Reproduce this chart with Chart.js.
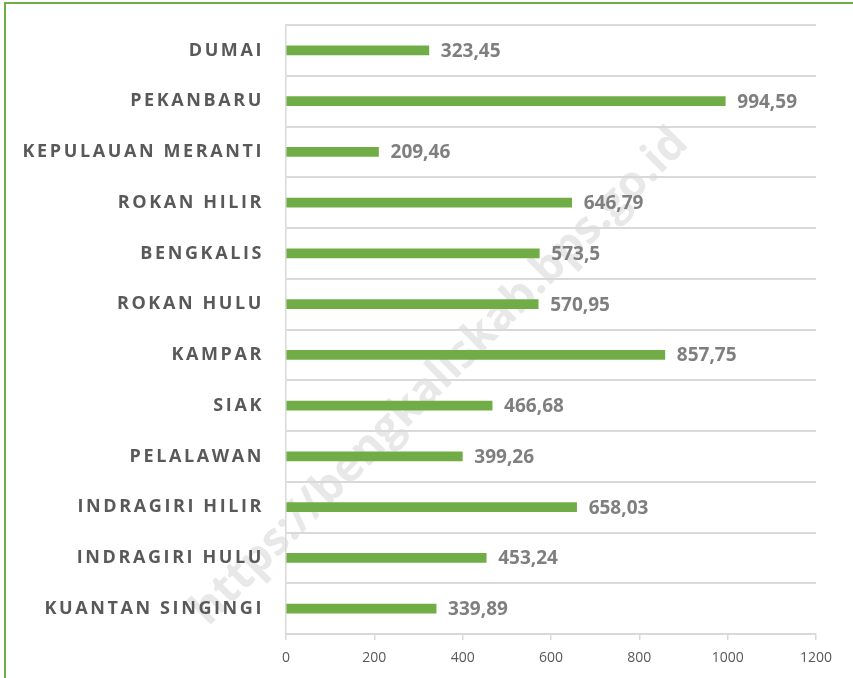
<!DOCTYPE html>
<html>
<head>
<meta charset="utf-8">
<script src="https://cdn.jsdelivr.net/npm/chart.js@4"></script>
<style>
  html, body { margin: 0; padding: 0; background: #fff; }
  #wrap { position: relative; width: 853px; height: 678px; overflow: hidden; }
  #frame { position: absolute; left: 4px; top: 2px; width: 1000px; height: 1000px;
           border-left: 2px solid #70ad47; border-top: 2px solid #70ad47; box-sizing: border-box; }
  canvas { position: absolute; left: 0; top: 0; }
</style>
</head>
<body>
<div id="wrap">
  <div id="frame"></div>
  <canvas id="barChart" width="853" height="678"></canvas>
</div>
<script>
// kabupaten / kota, urut dari atas
const regions = [
  "DUMAI", "PEKANBARU", "KEPULAUAN MERANTI", "ROKAN HILIR", "BENGKALIS", "ROKAN HULU",
  "KAMPAR", "SIAK", "PELALAWAN", "INDRAGIRI HILIR", "INDRAGIRI HULU", "KUANTAN SINGINGI"
];
const values = [
  323.45, 994.59, 209.46, 646.79, 573.5, 570.95,
  857.75, 466.68, 399.26, 658.03, 453.24, 339.89
];
const xTicks = [0, 200, 400, 600, 800, 1000, 1200];
const watermark = "https://bengkaliskab.bps.go.id";

const labelFont = "'Open Sans', 'DejaVu Sans', sans-serif";

// label kategori pakai letter spacing
class SpacedCategoryScale extends Chart.CategoryScale {
  _calculatePadding(...args) {
    super._calculatePadding(...args);
    this.paddingTop = 0;
    this.paddingBottom = 0;
  }
  drawLabels(area) {
    const ctx = this.ctx;
    ctx.save();
    ctx.letterSpacing = "2.6px";
    super.drawLabels(area);
    ctx.restore();
  }
}
SpacedCategoryScale.id = "spacedCategory";
SpacedCategoryScale.defaults = Chart.CategoryScale.defaults;
Chart.register(SpacedCategoryScale);

// watermark di belakang
const watermarkPlugin = {
  id: "watermark",
  beforeDraw(chart) {
    const ctx = chart.ctx;
    ctx.save();
    ctx.translate(440, 377);
    ctx.rotate(-Math.PI / 4);
    ctx.font = "bold 45px " + labelFont;
    ctx.fillStyle = "#e8e8e8";
    ctx.textAlign = "center";
    ctx.textBaseline = "middle";
    ctx.fillText(watermark, 0, 0);
    ctx.restore();
  }
};

// nilai di ujung batang
const valueLabels = {
  id: "valueLabels",
  afterDatasetsDraw(chart) {
    const ctx = chart.ctx;
    const meta = chart.getDatasetMeta(0);
    ctx.save();
    ctx.font = "bold 19px " + labelFont;
    ctx.fillStyle = "#7f7f7f";
    ctx.textAlign = "left";
    ctx.textBaseline = "middle";
    meta.data.forEach((bar, i) => {
      const txt = String(values[i]).replace(".", ",");
      ctx.fillText(txt, bar.x + 12, bar.y + 1);
    });
    ctx.restore();
  }
};

const ctx = document.getElementById("barChart").getContext("2d");

new Chart(ctx, {
  type: "bar",
  data: {
    labels: regions,
    datasets: [{
      data: values,
      backgroundColor: "#70ad47",
      borderWidth: 0,
      barThickness: 9
    }]
  },
  options: {
    indexAxis: "y",
    responsive: false,
    animation: false,
    devicePixelRatio: 1,
    layout: { padding: { top: 25, right: 37, left: 0, bottom: 0 } },
    plugins: {
      legend: { display: false },
      tooltip: { enabled: false }
    },
    scales: {
      x: {
        min: 0,
        max: 1200,
        afterBuildTicks: (scale) => { scale.ticks = xTicks.map(v => ({ value: v })); },
        afterFit: (scale) => { scale.height = 44; },
        grid: {
          drawOnChartArea: false,
          drawTicks: true,
          tickLength: 6,
          color: "#d9d9d9",
          lineWidth: 1.5
        },
        border: { display: true, color: "#d9d9d9", width: 1.5 },
        ticks: {
          color: "#595959",
          padding: 10,
          font: { family: labelFont, size: 14 },
          callback: (v) => String(v)
        }
      },
      y: {
        type: "spacedCategory",
        afterFit: (scale) => { scale.width = 286; },
        grid: {
          offset: true,
          drawTicks: false,
          color: "#d9d9d9",
          lineWidth: 2
        },
        border: { display: true, color: "#d9d9d9", width: 1.5 },
        ticks: {
          color: "#595959",
          padding: 22,
          font: { family: labelFont, size: 18, weight: "bold" }
        }
      }
    }
  },
  plugins: [watermarkPlugin, valueLabels]
});
</script>
</body>
</html>
